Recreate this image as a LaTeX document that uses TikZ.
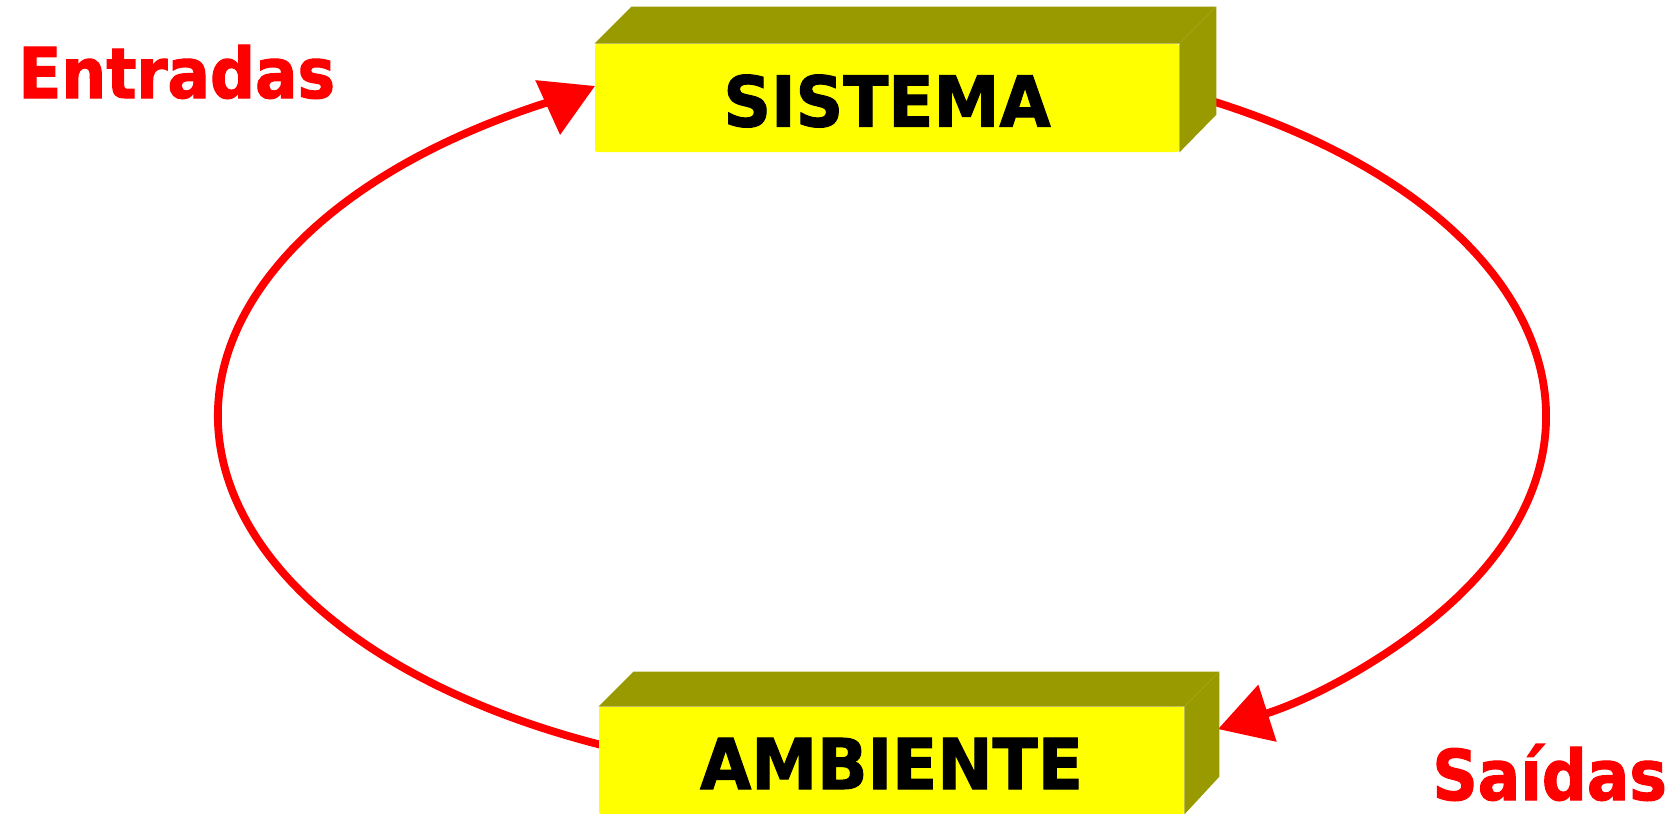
\documentclass[tikz,border=0pt]{standalone}
\usepackage{fontspec}
\setmainfont{DejaVu Sans}
\newfontfamily\boxfont[BoldFeatures={FakeBold=1.5,FakeStretch=1.05}]{DejaVu Sans Condensed}
\newfontfamily\tagfont[BoldFeatures={FakeBold=1.5}]{DejaVu Sans Condensed}
\usetikzlibrary{arrows.meta}
\definecolor{boxyellow}{HTML}{FFFF00}
\definecolor{boxolive}{HTML}{999900}
\definecolor{flowred}{HTML}{FF0000}
\begin{document}
\begin{tikzpicture}[x=0.5pt,y=-0.5pt,
  front/.style={fill=boxyellow, inner sep=0pt, minimum width=292pt, minimum height=54pt,
    font=\boxfont\bfseries\fontsize{35}{35}\selectfont, text height=28.5pt, text depth=0pt,
    rounded corners=1pt},
  side/.style={fill=boxolive},
  flow/.style={draw=flowred, line width=3.9pt, -{Triangle[length=26pt,width=29pt]}},
  tag/.style={text=flowred, font=\tagfont\bfseries\fontsize{35}{35}\selectfont, inner sep=0pt, anchor=base west}]
\useasboundingbox (0,0) rectangle (1672,814);
\coordinate (c) at (882,416);
\coordinate (inL) at ([shift={(c)}]245.5:332pt and 181.5pt);
\coordinate (tipL) at (595,86);
\coordinate (outR) at ([shift={(c)}]60.5:332pt and 181.5pt);
\draw[flow] (inL) arc[start angle=245.5, end angle=117, x radius=332pt, y radius=181.5pt] -- (tipL);
\draw[flow] (outR) arc[start angle=60.5, end angle=-59.6, x radius=332pt, y radius=181.5pt];
% SISTEMA
\node[front] (sis) at (887,98) {SISTEMA};
\fill[side] (sis.north west) -- ++(37,-37) -- ([shift={(37,-37)}]sis.north east) -- (sis.north east) -- cycle;
\fill[side] (sis.north east) -- ++(37,-37) -- ++(0,108) -- (sis.south east) -- cycle;
% AMBIENTE
\node[front, minimum width=292.5pt, minimum height=53.5pt] (amb) at (891.5,760.5) {AMBIENTE};
\fill[side] (amb.north west) -- ++(35,-35) -- ([shift={(35,-35)}]amb.north east) -- (amb.north east) -- cycle;
\fill[side] (amb.north east) -- ++(35,-35) -- ++(0,105) -- (amb.south east) -- cycle;
% labels
\node[tag] (ent) at (18,98) {Entradas};
\node[tag] (sai) at (1432,800) {Saídas};
\end{tikzpicture}
\end{document}
